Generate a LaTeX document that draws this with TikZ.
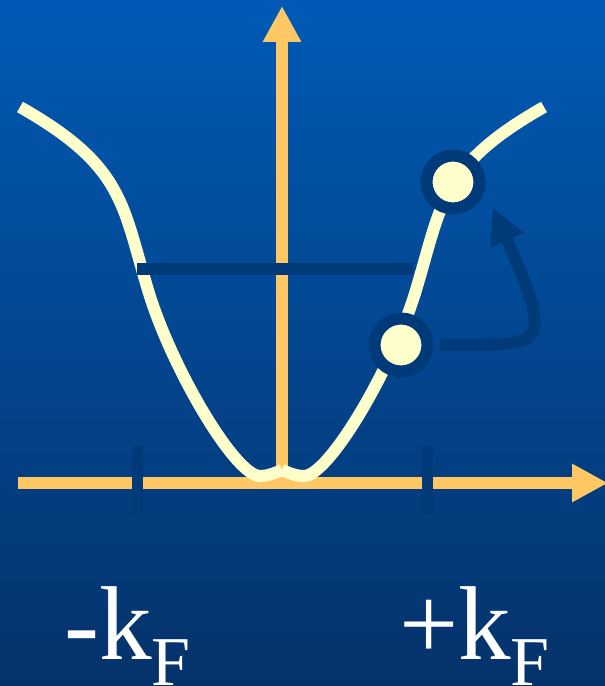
\documentclass[tikz,border=0pt]{standalone}
\usepackage{fontspec}
\setmainfont{Liberation Serif}
\usetikzlibrary{arrows.meta}
\definecolor{bgtop}{HTML}{005AB5}
\definecolor{bgbot}{HTML}{05326A}
\definecolor{axisc}{HTML}{FFC864}
\definecolor{bandc}{HTML}{FFFFCC}
\definecolor{deep}{HTML}{003A78}

\begin{document}
\begin{tikzpicture}[x=1pt,y=1pt,
  axis/.style={draw=axisc,line width=12pt,-{Triangle[length=36pt,width=36pt]}},
  band/.style={draw=bandc,line width=12pt},
  deepline/.style={draw=deep,line width=12pt},
  dot/.style={circle,draw=deep,line width=12pt,fill=bandc,minimum size=53pt,inner sep=0pt},
  kflabel/.style={text=white,inner sep=0pt,anchor=base west,font=\fontsize{105}{105}\selectfont}]
\useasboundingbox (0,0) rectangle (605,686);
\clip (0,0) rectangle (605,686);
\fill[top color=bgtop,bottom color=bgbot] (0,0) rectangle (605,686);
% axes
\coordinate (o) at (282,203);
\draw[axis] (18,203) -- (608,203);
\draw[axis] (o) -- (282,680);
% dispersion, two halves meeting at k=0
\draw[band] (20,579) .. controls (124,520) and (122,482) .. (148,396)
  .. controls (171,319) and (235,210) .. (260,210)
  .. controls (268,210) and (275,213) .. (282,216);
\draw[band] (282,216) .. controls (289,213) and (296,210) .. (304,210)
  .. controls (329,210) and (393,319) .. (416,396)
  .. controls (442,482) and (440,520) .. (544,579);
% Fermi level and k_F ticks
\draw[deepline] (137,417) -- (413,417);
\draw[deepline,line width=11pt] (137,171) -- (137,240);
\draw[deepline,line width=11pt] (427,171) -- (427,240);
% electron lifted above the Fermi level
\node[dot] (lo) at (401,341) {};
\node[dot] (hi) at (453,504) {};
\coordinate (tip) at ([shift={(40,-26)}]hi.center);
\draw[deepline,-{Triangle[length=35pt,width=34pt]}] ([xshift=6.5pt]lo.east) .. controls +(105,0) and +(63,-144) .. (tip);
% labels
\node[kflabel] (mkf) at (64,27) {-k\raisebox{-26pt}{\fontsize{70}{70}\selectfont F}};
\node[kflabel] (pkf) at (399,27) {+k\raisebox{-26pt}{\fontsize{70}{70}\selectfont F}};
\end{tikzpicture}
\end{document}
